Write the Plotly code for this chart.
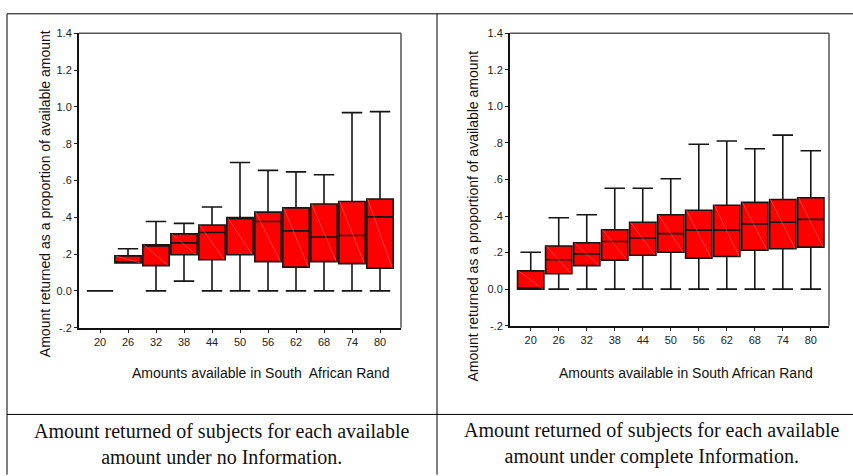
import plotly.graph_objects as go

categories = ["20", "26", "32", "38", "44", "50", "56", "62", "68", "74", "80"]

# No information (left panel)
no_info_lower = [0.0, 0.152, 0.0, 0.053, 0.0, 0.0, 0.0, 0.0, 0.0, 0.0, 0.0]
no_info_q1 = [0.0, 0.152, 0.137, 0.196, 0.169, 0.196, 0.159, 0.129, 0.159, 0.148, 0.123]
no_info_median = [0.0, 0.157, 0.248, 0.261, 0.317, 0.396, 0.377, 0.326, 0.293, 0.301, 0.402]
no_info_q3 = [0.0, 0.190, 0.250, 0.310, 0.358, 0.398, 0.428, 0.451, 0.472, 0.486, 0.499]
no_info_upper = [0.0, 0.229, 0.377, 0.367, 0.456, 0.698, 0.655, 0.647, 0.631, 0.969, 0.974]

# Complete information (right panel)
full_lower = [0.0, 0.0, 0.0, 0.0, 0.0, 0.0, 0.0, 0.0, 0.0, 0.0, 0.0]
full_q1 = [0.0, 0.084, 0.129, 0.159, 0.186, 0.202, 0.170, 0.179, 0.213, 0.221, 0.230]
full_median = [0.004, 0.161, 0.193, 0.261, 0.280, 0.304, 0.323, 0.323, 0.357, 0.366, 0.382]
full_q3 = [0.100, 0.236, 0.254, 0.325, 0.366, 0.407, 0.432, 0.459, 0.475, 0.491, 0.500]
full_upper = [0.202, 0.391, 0.407, 0.552, 0.552, 0.604, 0.793, 0.811, 0.768, 0.843, 0.757]

y_tickvals = [-0.2, 0.0, 0.2, 0.4, 0.6, 0.8, 1.0, 1.2, 1.4]
y_ticktext = ["-.2", "0.0", ".2", ".4", ".6", ".8", "1.0", "1.2", "1.4"]

y_title_left = "Amount returned as a proportion of available amount"
y_title_right = "Amount returned as a proportionf of available amount"
x_title_left = "Amounts available in South  African Rand"
x_title_right = "Amounts available in South African Rand"
caption_left = "Amount returned of subjects for each available<br>amount under no Information."
caption_right = "Amount returned of subjects for each available<br>amount under complete Information."

W, H = 853, 476
BOX_W = 0.94
idx = list(range(len(categories)))

fig = go.Figure()

def add_panel(xa, ya, lower, q1, med, q3, upper):
    fig.add_trace(go.Box(
        x=idx, q1=q1, median=med, q3=q3, lowerfence=lower, upperfence=upper,
        width=BOX_W, whiskerwidth=0.78, boxpoints=False,
        fillcolor="#ff0000", line=dict(color="#151515", width=1.6),
        xaxis=xa, yaxis=ya, showlegend=False, hoverinfo="skip",
    ))
    dx, dy = [], []
    for i in idx:
        if q3[i] > q1[i]:
            dx += [i - BOX_W / 2 + 0.03, i + BOX_W / 2 - 0.03, None]
            dy += [q3[i], q1[i], None]
    fig.add_trace(go.Scatter(
        x=dx, y=dy, mode="lines", line=dict(color="#ff7a7a", width=0.5),
        xaxis=xa, yaxis=ya, showlegend=False, hoverinfo="skip",
    ))

add_panel("x", "y", no_info_lower, no_info_q1, no_info_median, no_info_q3, no_info_upper)
add_panel("x2", "y2", full_lower, full_q1, full_median, full_q3, full_upper)

def px_x(p):
    return p / W

def px_y(p):
    return 1 - p / H

tickfont = dict(family="Liberation Sans, Arial, sans-serif", size=11, color="#222")
xcommon = dict(tickvals=idx, ticktext=categories, ticks="outside", ticklen=3,
               tickcolor="#222", tickfont=tickfont, showgrid=False, zeroline=False,
               showline=True, linecolor="#111", linewidth=2)
ycommon = dict(range=[-0.2, 1.4], tickvals=y_tickvals, ticktext=y_ticktext,
               ticks="outside", ticklen=3, tickcolor="#222", tickfont=tickfont,
               showgrid=False, zeroline=False, showline=True, linecolor="#111", linewidth=2)

fig.update_layout(
    width=W, height=H, margin=dict(l=0, r=0, t=0, b=0),
    paper_bgcolor="white", plot_bgcolor="white",
    hovermode=False,
    xaxis=dict(domain=[px_x(79), px_x(401)], range=[-0.75, 10.75], anchor="y", **xcommon),
    yaxis=dict(domain=[px_y(330), px_y(28)], anchor="x", **ycommon),
    xaxis2=dict(domain=[px_x(510), px_x(829)], range=[-0.74, 10.65], anchor="y2", **xcommon),
    yaxis2=dict(domain=[px_y(328), px_y(28)], anchor="x2", **ycommon),
)

# top / right frame lines of each plot
for xr, yr in [("x domain", "y domain"), ("x2 domain", "y2 domain")]:
    fig.add_shape(type="line", xref=xr, yref=yr, x0=0, x1=1, y0=1, y1=1,
                  line=dict(color="#555", width=1.5))
    fig.add_shape(type="line", xref=xr, yref=yr, x0=1, x1=1, y0=0, y1=1,
                  line=dict(color="#555", width=1.5))

# table borders
border = dict(color="black", width=1)
fig.add_shape(type="line", xref="paper", yref="paper", x0=px_x(7), x1=1.01, y0=px_y(8), y1=px_y(8), line=border)
fig.add_shape(type="line", xref="paper", yref="paper", x0=px_x(7), x1=px_x(7), y0=px_y(8), y1=-0.01, line=border)
fig.add_shape(type="line", xref="paper", yref="paper", x0=px_x(437), x1=px_x(437), y0=px_y(8), y1=-0.01, line=border)
fig.add_shape(type="line", xref="paper", yref="paper", x0=px_x(7), x1=1.01, y0=px_y(419), y1=px_y(419), line=border)

titlefont = dict(family="Liberation Sans, Arial, sans-serif", size=14, color="#111")
capfont = dict(family="Liberation Serif, Times New Roman, serif", size=20, color="#111")

annos = [
    dict(x=px_x(45), y=px_y(193), text=y_title_left, textangle=-90, font=titlefont),
    dict(x=px_x(473), y=px_y(216), text=y_title_right, textangle=-90, font=titlefont),
    dict(x=px_x(261), y=px_y(376), text=x_title_left, font=titlefont),
    dict(x=px_x(686), y=px_y(376), text=x_title_right, font=titlefont),
    dict(x=px_x(222), y=px_y(449), text=caption_left, font=capfont),
    dict(x=px_x(652), y=px_y(449), text=caption_right, font=capfont),
]
for a in annos:
    fig.add_annotation(xref="paper", yref="paper", showarrow=False,
                       xanchor="center", yanchor="middle", **a)

fig.write_html("out.html", config={"displayModeBar": False},
               post_script="document.body.style.margin='0';")
